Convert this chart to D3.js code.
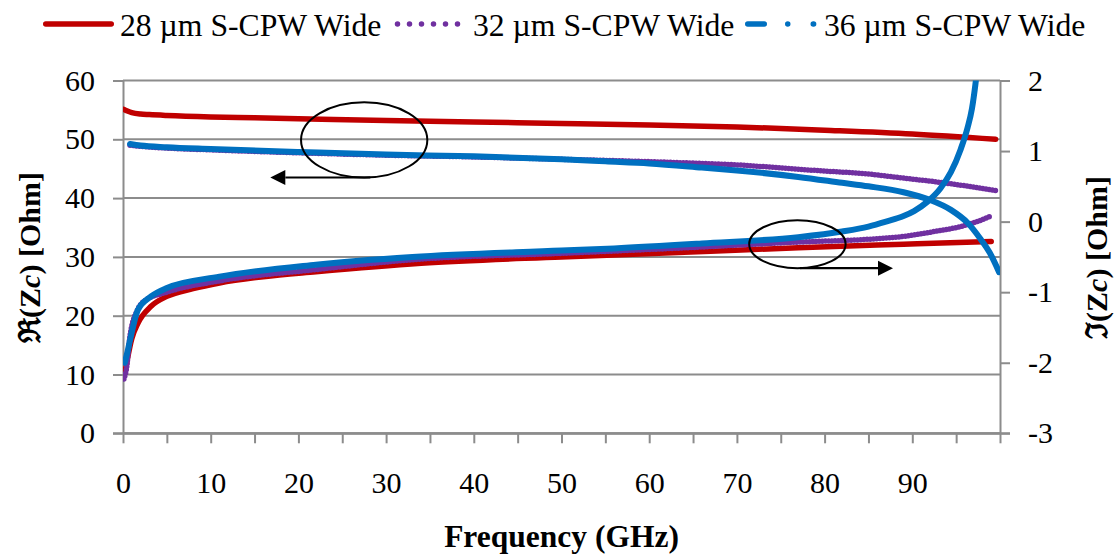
<!DOCTYPE html>
<html>
<head>
<meta charset="utf-8">
<script src="https://cdn.jsdelivr.net/npm/d3@7"></script>
<style>
  html, body { margin: 0; padding: 0; background: #fff; }
  svg { display: block; font-family: "Liberation Serif", "Times New Roman", serif; }
</style>
</head>
<body>
<svg id="chart" width="1115" height="556"></svg>
<script>
// ---- Data: characteristic impedance Zc of S-CPW lines versus frequency ----
// Real parts (left axis, Ohm)
const freqRe28 = [0.1, 0.5, 1, 2, 3, 5, 10, 15, 20, 30, 40, 50, 60, 70, 80, 90, 99.5];
const re28     = [55.1, 54.8, 54.55, 54.3, 54.2, 54.05, 53.8, 53.65, 53.5, 53.2, 52.95, 52.7, 52.45, 52.1, 51.55, 50.9, 50.0];

const freqRe32 = [0.8, 2, 5, 10, 20, 30, 40, 50, 60, 66, 70, 77, 80, 85, 89, 92.5, 96, 99.5];
const re32     = [49.0, 48.8, 48.5, 48.2, 47.7, 47.3, 47.0, 46.6, 46.2, 45.9, 45.65, 44.9, 44.6, 44.1, 43.4, 42.8, 42.1, 41.3];

const freqRe36 = [0.8, 2, 5, 10, 20, 30, 40, 50, 55, 60, 66, 70, 77, 82, 85, 89, 92, 94.4, 96.3, 97.8, 98.8, 99.9];
const re36     = [49.2, 48.95, 48.65, 48.35, 47.85, 47.4, 47.1, 46.6, 46.25, 45.9, 45.2, 44.7, 43.6, 42.6, 42.0, 41.0, 39.7, 38.0, 35.8, 33.0, 30.8, 27.4];

// Imaginary parts (right axis, Ohm)
const freqIm28 = [0.2, 0.5, 1, 1.7, 3.2, 5, 8, 11, 16, 22, 34, 50, 67, 77, 89, 99];
const im28     = [-2.15, -1.95, -1.66, -1.44, -1.2, -1.06, -0.95, -0.87, -0.78, -0.71, -0.59, -0.5, -0.42, -0.37, -0.32, -0.28];

const freqIm32 = [0.1, 0.4, 0.8, 1.7, 2.5, 5, 11, 22, 33, 50, 66, 77, 85, 89, 92.5, 95.5, 97.4, 99];
const im32     = [-2.23, -2.08, -1.62, -1.24, -1.12, -1.0, -0.84, -0.68, -0.54, -0.45, -0.36, -0.29, -0.25, -0.21, -0.14, -0.07, 0.0, 0.08];

const freqIm36 = [0.2, 0.5, 0.8, 1.7, 3.2, 5, 11, 22, 33, 50, 56, 66, 77, 82, 85, 87, 89, 90.2, 91.7, 93.2, 94.4, 95.5, 96.3, 96.8, 97.2, 97.6];
const im36     = [-2.0, -1.85, -1.68, -1.25, -1.06, -0.94, -0.78, -0.61, -0.5, -0.41, -0.38, -0.31, -0.22, -0.14, -0.07, 0.0, 0.08, 0.15, 0.28, 0.47, 0.70, 1.02, 1.33, 1.6, 1.95, 2.4];

// Axis ticks and labels
const xTicks       = [0, 5, 10, 15, 20, 25, 30, 35, 40, 45, 50, 55, 60, 65, 70, 75, 80, 85, 90, 95, 100];
const xTickLabels  = ["0", "10", "20", "30", "40", "50", "60", "70", "80", "90"];
const yLeftTicks   = [0, 10, 20, 30, 40, 50, 60];
const yRightTicks  = [-3, -2, -1, 0, 1, 2];
const legendLabels = ["28 µm S-CPW Wide", "32 µm S-CPW Wide", "36 µm S-CPW Wide"];

// Annotation callouts (data units): ellipse centre, half-axes, arrow span
const calloutRe = { f: 27.5, v: 49.9, rf: 7.2, rv: 6.4, arrowV: 43.5, from: 28.2, to: 16.8 };
const calloutIm = { f: 76.9, v: -0.32, rf: 5.5, rv: 0.34, arrowV: -0.66, from: 77.2, to: 87.8 };

// ---- Layout ----
const svg = d3.select("#chart");
const plotLeft = 123, plotRight = 1000, plotTop = 80.5, plotBottom = 433.3;
const RED = "#C00000", PURPLE = "#7030A0", BLUE = "#0070C0", GRID = "#8c8c8c";
const SERIF = "'Liberation Serif','Times New Roman',serif";

const x  = d3.scaleLinear().domain([0, 100]).range([plotLeft, plotRight]);
const yL = d3.scaleLinear().domain([0, 60]).range([plotBottom, plotTop]);
const yR = d3.scaleLinear().domain([-3, 2]).range([plotBottom, plotTop]);

// Horizontal gridlines (left axis)
svg.append("g")
  .selectAll("line")
  .data(yLeftTicks)
  .join("line")
  .attr("x1", plotLeft).attr("x2", plotRight)
  .attr("y1", d => yL(d)).attr("y2", d => yL(d))
  .attr("stroke", GRID).attr("stroke-width", 2);

function styleAxis(g) {
  g.attr("font-family", SERIF);
  g.selectAll(".domain").attr("stroke", GRID).attr("stroke-width", 2);
  g.selectAll(".tick line").attr("stroke", GRID).attr("stroke-width", 2);
  g.selectAll("text").attr("fill", "#000").attr("font-size", 30).attr("font-family", SERIF);
}

// Left axis
svg.append("g")
  .attr("transform", `translate(${plotLeft},0)`)
  .call(d3.axisLeft(yL).tickValues(yLeftTicks).tickSize(10).tickSizeOuter(0).tickPadding(18)
        .tickFormat(d => String(d)))
  .call(styleAxis);

// Right axis (plain hyphen for negative labels)
svg.append("g")
  .attr("transform", `translate(${plotRight},0)`)
  .call(d3.axisRight(yR).tickValues(yRightTicks).tickSize(10).tickSizeOuter(0).tickPadding(18)
        .tickFormat(d => String(d)))
  .call(styleAxis);

// Bottom axis: ticks every 5 GHz, labels every 10 GHz up to 90
svg.append("g")
  .attr("transform", `translate(0,${plotBottom})`)
  .call(d3.axisBottom(x).tickValues(xTicks).tickSize(10).tickSizeOuter(0).tickPadding(28)
        .tickFormat(d => xTickLabels.includes(String(d)) ? String(d) : ""))
  .call(styleAxis);

// Extend bottom axis line to cover the outer tick positions
svg.append("line")
  .attr("x1", plotLeft - 10).attr("x2", plotRight + 10)
  .attr("y1", plotBottom).attr("y2", plotBottom)
  .attr("stroke", GRID).attr("stroke-width", 2);

// Clip to plot area
svg.append("defs").append("clipPath").attr("id", "plotClip")
  .append("rect").attr("x", plotLeft).attr("y", plotTop)
  .attr("width", plotRight - plotLeft).attr("height", plotBottom - plotTop);

const series = [
  { f: freqRe28, v: re28, y: yL, color: RED,    kind: "solid" },
  { f: freqIm28, v: im28, y: yR, color: RED,    kind: "solid" },
  { f: freqRe32, v: re32, y: yL, color: PURPLE, kind: "dot" },
  { f: freqIm32, v: im32, y: yR, color: PURPLE, kind: "dot" },
  { f: freqRe36, v: re36, y: yL, color: BLUE,   kind: "dashdot" },
  { f: freqIm36, v: im36, y: yR, color: BLUE,   kind: "dashdot" }
];

const plot = svg.append("g").attr("clip-path", "url(#plotClip)");
series.forEach(s => {
  const pts = s.f.map((f, i) => [f, s.v[i]]);
  const line = d3.line()
    .x(d => x(d[0]))
    .y(d => s.y(d[1]))
    .curve(d3.curveMonotoneX);
  const p = plot.append("path")
    .attr("d", line(pts))
    .attr("fill", "none")
    .attr("stroke", s.color)
    .attr("stroke-linecap", "round")
    .attr("stroke-linejoin", "round");
  if (s.kind === "solid") p.attr("stroke-width", 5.5);
  if (s.kind === "dot") p.attr("stroke-width", 5.5).attr("stroke-dasharray", "0 3.2");
  if (s.kind === "dashdot") p.attr("stroke-width", 6);
});

// Callouts: ellipse around each group with an arrow toward its axis
function callout(c, yScale) {
  const cx = x(c.f), cy = yScale(c.v);
  const rx = x(c.f + c.rf) - cx, ry = cy - yScale(c.v + c.rv);
  svg.append("ellipse")
    .attr("cx", cx).attr("cy", cy).attr("rx", rx).attr("ry", ry)
    .attr("fill", "none").attr("stroke", "#000").attr("stroke-width", 2);
  const ay = yScale(c.arrowV), x0 = x(c.from), x1 = x(c.to);
  const dir = Math.sign(x1 - x0);
  const headLen = 15, headHalf = 7.5;
  svg.append("line")
    .attr("x1", x0).attr("x2", x1 - dir * headLen)
    .attr("y1", ay).attr("y2", ay)
    .attr("stroke", "#000").attr("stroke-width", 2.2);
  svg.append("path")
    .attr("d", `M${x1},${ay}L${x1 - dir * headLen},${ay - headHalf}L${x1 - dir * headLen},${ay + headHalf}Z`)
    .attr("fill", "#000");
}
callout(calloutRe, yL);
callout(calloutIm, yR);

// Legend
const legendY = 24, legendBase = 35.5, legendFont = 31.7;
const legend = svg.append("g").attr("font-family", SERIF);
// 28 µm: solid
legend.append("line").attr("x1", 45.75).attr("x2", 111.25).attr("y1", legendY).attr("y2", legendY)
  .attr("stroke", RED).attr("stroke-width", 5.5).attr("stroke-linecap", "round");
legend.append("text").attr("x", 120).attr("y", legendBase).attr("font-size", legendFont).text(legendLabels[0]);
// 32 µm: round dots
legend.append("line").attr("x1", 397.5).attr("x2", 458).attr("y1", legendY).attr("y2", legendY)
  .attr("stroke", PURPLE).attr("stroke-width", 5.5).attr("stroke-linecap", "round")
  .attr("stroke-dasharray", "0 12");
legend.append("text").attr("x", 473).attr("y", legendBase).attr("font-size", legendFont).text(legendLabels[1]);
// 36 µm: long dash dot
legend.append("line").attr("x1", 747.75).attr("x2", 813.6).attr("y1", legendY).attr("y2", legendY)
  .attr("stroke", BLUE).attr("stroke-width", 5.5).attr("stroke-linecap", "round")
  .attr("stroke-dasharray", "16.5 23.5 0 25.5");
legend.append("text").attr("x", 824).attr("y", legendBase).attr("font-size", legendFont).text(legendLabels[2]);

// Axis titles
svg.append("text")
  .attr("x", 561.5).attr("y", 546.7)
  .attr("text-anchor", "middle").attr("font-size", 31.5).attr("font-weight", "bold")
  .attr("font-family", SERIF)
  .text("Frequency (GHz)");

function yTitle(cx, cy, sym) {
  const t = svg.append("text")
    .attr("transform", `translate(${cx},${cy}) rotate(-90)`)
    .attr("text-anchor", "middle").attr("dy", "0.35em")
    .attr("font-size", 30).attr("font-weight", "bold").attr("font-family", SERIF);
  t.append("tspan").text(sym + "(Z");
  t.append("tspan").attr("font-style", "italic").text("c");
  t.append("tspan").text(") [Ohm]");
}
yTitle(29, 257.5, "\u211C");
yTitle(1096, 257.5, "\u2111");
</script>
</body>
</html>
